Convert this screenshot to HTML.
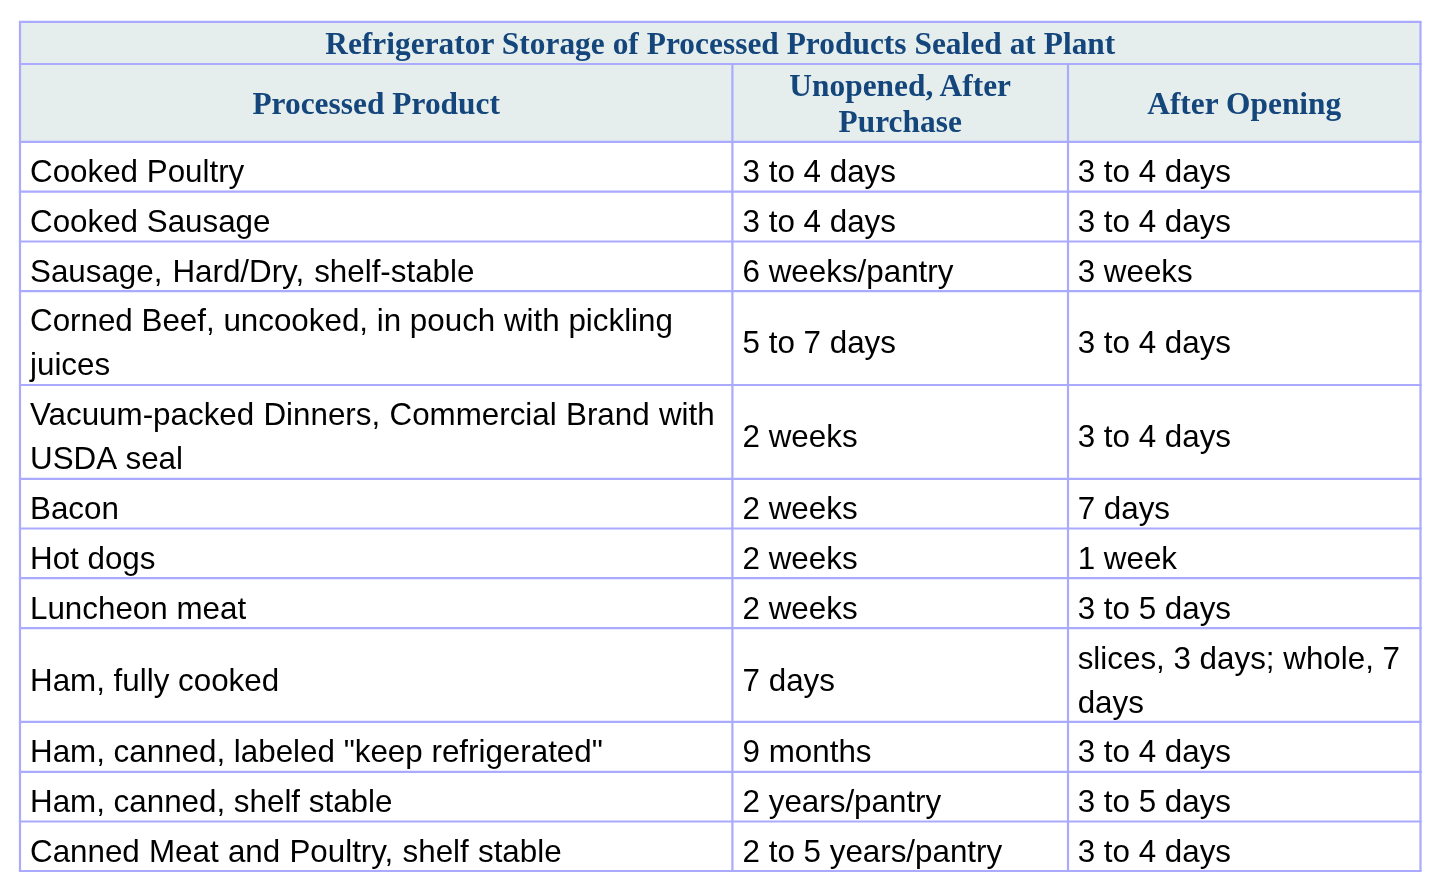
<!DOCTYPE html><html lang="en"><head><meta charset="utf-8"><title>Refrigerator Storage of Processed Products Sealed at Plant</title><style>
html,body{margin:0;padding:0;background:#fff;}
body{width:1440px;height:886px;position:relative;overflow:hidden;font-family:"Liberation Sans",Arial,sans-serif;}
#hbg{position:absolute;left:20px;top:22px;width:1400px;height:120px;background:#e5eeed;}
svg{position:absolute;left:0;top:0;}
table,thead,tbody,tr{display:contents;}
th,td{padding:0;margin:0;border:0;}
td.c{display:block;position:absolute;box-sizing:border-box;font-weight:normal;text-align:left;font-size:31.35px;line-height:44.2px;color:#000;white-space:nowrap;}
th.h{position:absolute;display:flex;align-items:center;justify-content:center;text-align:center;font-family:"Liberation Serif","Times New Roman",serif;font-weight:bold;font-size:31.35px;line-height:36px;color:#14467c;white-space:nowrap;letter-spacing:0.04px;}
</style></head><body>
<div id="hbg"></div>
<table><thead><tr>
<th class="h" colspan="3" style="left:20.00px;top:22.90px;width:1400.50px;height:42.10px"><span>Refrigerator Storage of Processed Products Sealed at Plant</span></th>
</tr><tr>
<th class="h" style="left:20.00px;top:65.00px;width:712.40px;height:77.90px"><span>Processed Product</span></th>
<th class="h" style="left:732.40px;top:65.00px;width:335.60px;height:77.90px"><span>Unopened, After<br>Purchase</span></th>
<th class="h" style="left:1068.00px;top:65.00px;width:352.50px;height:77.90px"><span>After Opening</span></th>
</tr></thead><tbody>
<tr>
<td class="c" style="left:30.00px;top:150px">Cooked Poultry</td>
<td class="c" style="left:742.60px;top:150px">3 to 4 days</td>
<td class="c" style="left:1077.70px;top:150px">3 to 4 days</td>
</tr>
<tr>
<td class="c" style="left:30.00px;top:200px">Cooked Sausage</td>
<td class="c" style="left:742.60px;top:200px">3 to 4 days</td>
<td class="c" style="left:1077.70px;top:200px">3 to 4 days</td>
</tr>
<tr>
<td class="c" style="left:30.00px;top:250px"><span style="word-spacing:1.25px">Sausage, Hard/Dry, shelf-stable</span></td>
<td class="c" style="left:742.60px;top:250px">6 weeks/pantry</td>
<td class="c" style="left:1077.70px;top:250px">3 weeks</td>
</tr>
<tr>
<td class="c" style="left:30.00px;top:299px">Corned Beef, uncooked, in pouch with pickling<br>juices</td>
<td class="c" style="left:742.60px;top:321px">5 to 7 days</td>
<td class="c" style="left:1077.70px;top:321px">3 to 4 days</td>
</tr>
<tr>
<td class="c" style="left:30.00px;top:393px"><span style="word-spacing:0.6px">Vacuum-packed Dinners, Commercial Brand with</span><br><span style="word-spacing:1.4px">USDA seal</span></td>
<td class="c" style="left:742.60px;top:415px">2 weeks</td>
<td class="c" style="left:1077.70px;top:415px">3 to 4 days</td>
</tr>
<tr>
<td class="c" style="left:30.00px;top:487px">Bacon</td>
<td class="c" style="left:742.60px;top:487px">2 weeks</td>
<td class="c" style="left:1077.70px;top:487px">7 days</td>
</tr>
<tr>
<td class="c" style="left:30.00px;top:537px">Hot dogs</td>
<td class="c" style="left:742.60px;top:537px">2 weeks</td>
<td class="c" style="left:1077.70px;top:537px">1 week</td>
</tr>
<tr>
<td class="c" style="left:30.00px;top:587px">Luncheon meat</td>
<td class="c" style="left:742.60px;top:587px">2 weeks</td>
<td class="c" style="left:1077.70px;top:587px">3 to 5 days</td>
</tr>
<tr>
<td class="c" style="left:30.00px;top:659px">Ham, fully cooked</td>
<td class="c" style="left:742.60px;top:659px">7 days</td>
<td class="c" style="left:1077.70px;top:637px">slices, 3 days; whole, 7<br>days</td>
</tr>
<tr>
<td class="c" style="left:30.00px;top:730px">Ham, canned, labeled "keep refrigerated"</td>
<td class="c" style="left:742.60px;top:730px">9 months</td>
<td class="c" style="left:1077.70px;top:730px">3 to 4 days</td>
</tr>
<tr>
<td class="c" style="left:30.00px;top:780px">Ham, canned, shelf stable</td>
<td class="c" style="left:742.60px;top:780px">2 years/pantry</td>
<td class="c" style="left:1077.70px;top:780px">3 to 5 days</td>
</tr>
<tr>
<td class="c" style="left:30.00px;top:830px"><span style="word-spacing:0.5px">Canned Meat and Poultry, shelf stable</span></td>
<td class="c" style="left:742.60px;top:830px">2 to 5 years/pantry</td>
<td class="c" style="left:1077.70px;top:830px">3 to 4 days</td>
</tr>
</tbody></table>
<svg width="1440" height="886" viewBox="0 0 1440 886" fill="none" stroke="#aaaaff" stroke-width="2.2"><line x1="18.9" y1="21.9" x2="1421.6" y2="21.9"/><line x1="18.9" y1="64.0" x2="1421.6" y2="64.0"/><line x1="18.9" y1="141.9" x2="1421.6" y2="141.9"/><line x1="18.9" y1="191.7" x2="1421.6" y2="191.7"/><line x1="18.9" y1="241.5" x2="1421.6" y2="241.5"/><line x1="18.9" y1="291.2" x2="1421.6" y2="291.2"/><line x1="18.9" y1="385.0" x2="1421.6" y2="385.0"/><line x1="18.9" y1="478.8" x2="1421.6" y2="478.8"/><line x1="18.9" y1="528.5" x2="1421.6" y2="528.5"/><line x1="18.9" y1="578.2" x2="1421.6" y2="578.2"/><line x1="18.9" y1="628.05" x2="1421.6" y2="628.05"/><line x1="18.9" y1="721.9" x2="1421.6" y2="721.9"/><line x1="18.9" y1="771.9" x2="1421.6" y2="771.9"/><line x1="18.9" y1="821.5" x2="1421.6" y2="821.5"/><line x1="18.9" y1="871.0" x2="1421.6" y2="871.0"/><line x1="20" y1="21.9" x2="20" y2="871.0"/><line x1="1420.5" y1="21.9" x2="1420.5" y2="871.0"/><line x1="732.4" y1="64.0" x2="732.4" y2="871.0"/><line x1="1068" y1="64.0" x2="1068" y2="871.0"/></svg>
</body></html>
